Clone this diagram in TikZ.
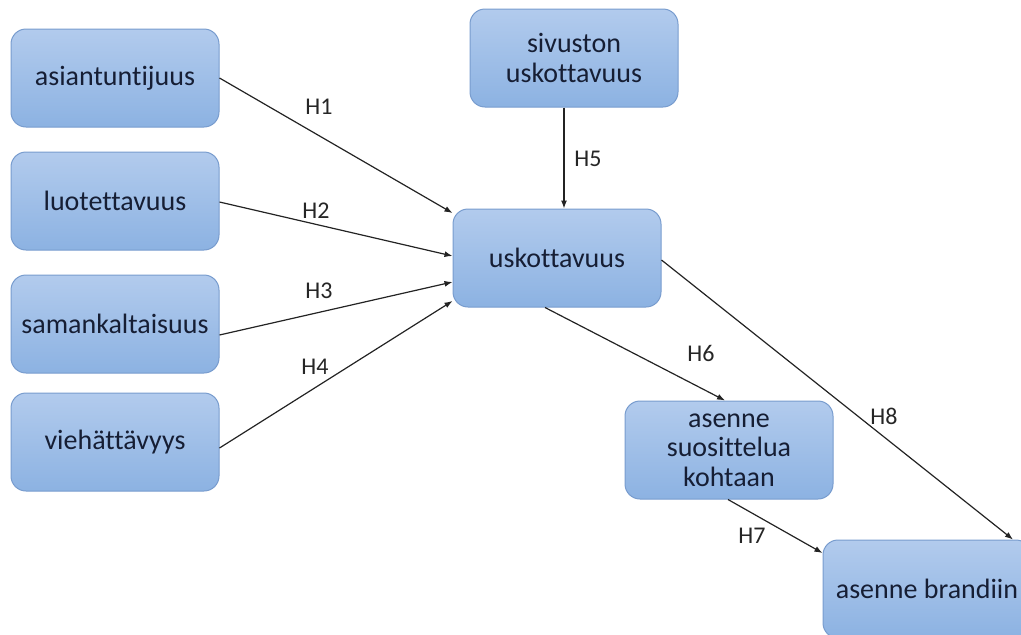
\documentclass[tikz,border=0pt]{standalone}
\usepackage{fontspec}
\setmainfont{Carlito}[Ligatures=NoCommon]
\usetikzlibrary{arrows.meta,calc}
\definecolor{boxtop}{RGB}{178,203,237}
\definecolor{boxbot}{RGB}{140,178,226}
\definecolor{boxedge}{RGB}{120,156,206}
\definecolor{boxtext}{RGB}{22,30,52}
\definecolor{arrowc}{RGB}{35,35,35}
\tikzset{
  box/.style={rectangle, rounded corners=15pt, draw=boxedge, line width=1pt,
    top color=boxtop, bottom color=boxbot, minimum width=208pt, minimum height=98pt,
    inner sep=0pt, align=center, text=boxtext, font=\fontsize{28}{29.5}\selectfont},
  conn/.style={draw=arrowc, line width=1.2pt, -{Latex[length=8pt,width=6pt]}},
  hlabel/.style={text=black!85, font=\fontsize{24}{26}\selectfont, inner sep=0pt}
}
\begin{document}
\begin{tikzpicture}[x=1pt,y=-1pt]
\useasboundingbox (0,0) rectangle (1021,635);
\node[box] (A) at (115,78) {asiantuntijuus};
\node[box] (B) at (115,201) {luotettavuus};
\node[box] (C) at (115,324) {samankaltaisuus};
\node[box] (D) at (115,442) {viehättävyys};
\node[box] (S) at (574,58) {sivuston\\uskottavuus};
\node[box] (U) at (557,258) {uskottavuus};
\node[box] (K) at (729,450) {asenne\\suosittelua\\kohtaan};
\node[box] (Br) at (927,589) {asenne brandiin};

\draw[conn] (A.east) -- ($(U.west)+(0,-45)$);
\draw[conn] ($(B.east)+(0,1)$) -- ($(U.west)+(0,-2)$);
\draw[conn] ($(C.east)+(0,11)$) -- ($(U.west)+(0,24)$);
\draw[conn] ($(D.east)+(0,6)$) -- ($(U.west)+(0,43)$);
\draw[conn] ($(S.south)+(-10,0)$) -- ($(U.north)+(7,0)$);
\draw[conn] ($(U.south)+(-12,0)$) -- ($(K.north)+(-4,0)$);
\draw[conn] ($(K.south)+(-1,0)$) -- ($(Br.west)+(0,-36)$);
\draw[conn] ($(U.east)+(0,2)$) -- ($(Br.north)+(86,0)$);

\node[hlabel] (h1) at (319,107) {H1};
\node[hlabel] (h2) at (316,211) {H2};
\node[hlabel] (h3) at (319,291) {H3};
\node[hlabel] (h4) at (315,367) {H4};
\node[hlabel] (h5) at (588,159) {H5};
\node[hlabel] (h6) at (701,353) {H6};
\node[hlabel] (h7) at (752,536) {H7};
\node[hlabel] (h8) at (884,416) {H8};
\end{tikzpicture}
\end{document}
